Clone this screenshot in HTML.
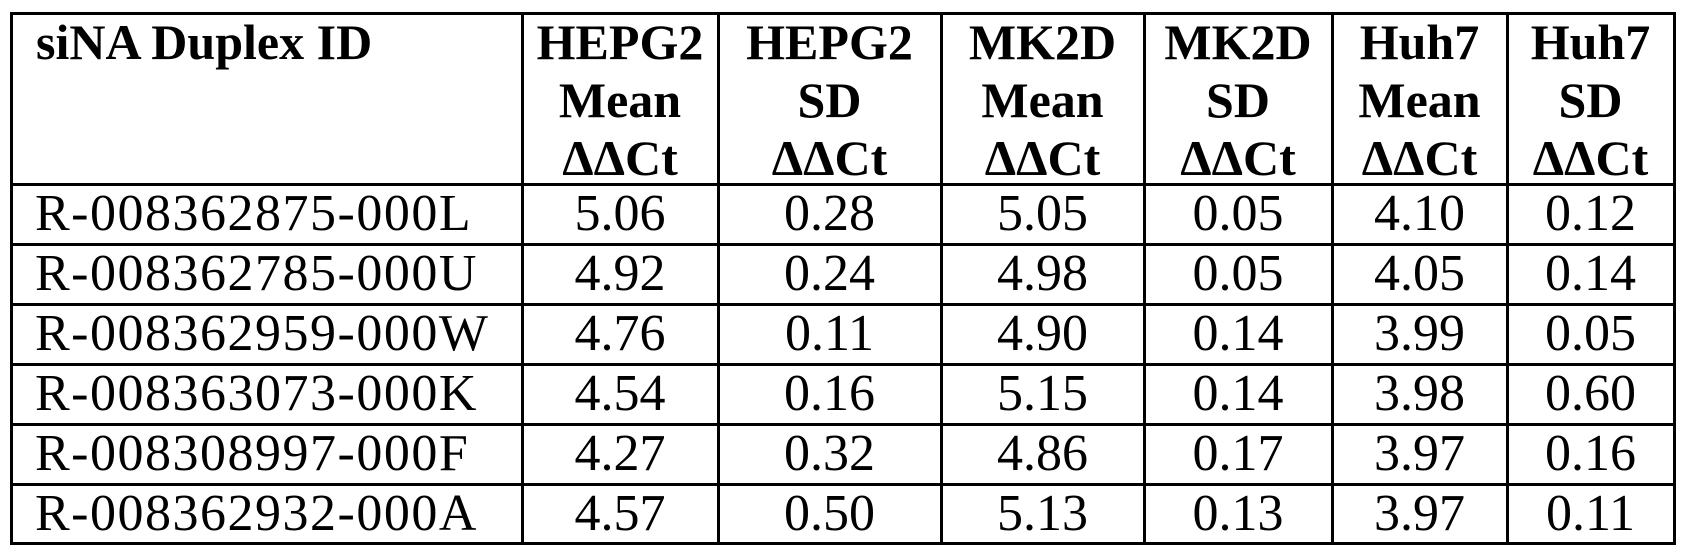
<!DOCTYPE html>
<html><head><meta charset="utf-8"><style>
html,body{margin:0;padding:0;background:#fff;}
body{width:1686px;height:556px;position:relative;overflow:hidden;font-family:"Liberation Serif","DejaVu Serif",serif;color:#000;}
.h{position:absolute;background:#000;height:3px;}
.v{position:absolute;background:#000;width:3px;}
.c{position:absolute;font-size:52px;text-align:center;white-space:nowrap;line-height:60px;}
.id{letter-spacing:1.5px;}
.b{font-weight:bold;font-size:50px;line-height:58px;}
</style></head><body>
<div class="h" style="left:10px;width:1666px;top:12px"></div>
<div class="h" style="left:10px;width:1666px;top:183px"></div>
<div class="h" style="left:10px;width:1666px;top:243px"></div>
<div class="h" style="left:10px;width:1666px;top:303px"></div>
<div class="h" style="left:10px;width:1666px;top:363px"></div>
<div class="h" style="left:10px;width:1666px;top:423px"></div>
<div class="h" style="left:10px;width:1666px;top:483px"></div>
<div class="h" style="left:10px;width:1666px;top:542px"></div>
<div class="v" style="top:12px;height:533px;left:10px"></div>
<div class="v" style="top:12px;height:533px;left:521px"></div>
<div class="v" style="top:12px;height:533px;left:717px"></div>
<div class="v" style="top:12px;height:533px;left:940px"></div>
<div class="v" style="top:12px;height:533px;left:1143px"></div>
<div class="v" style="top:12px;height:533px;left:1331px"></div>
<div class="v" style="top:12px;height:533px;left:1506px"></div>
<div class="v" style="top:12px;height:533px;left:1673px"></div>

<div class="c b" style="left:36px;top:13px;text-align:left">siNA Duplex ID</div>
<div class="c b" style="left:522px;width:196px;top:13px">HEPG2<br>Mean<br>ΔΔCt</div>
<div class="c b" style="left:718px;width:223px;top:13px">HEPG2<br>SD<br>ΔΔCt</div>
<div class="c b" style="left:941px;width:203px;top:13px">MK2D<br>Mean<br>ΔΔCt</div>
<div class="c b" style="left:1144px;width:188px;top:13px">MK2D<br>SD<br>ΔΔCt</div>
<div class="c b" style="left:1332px;width:175px;top:13px">Huh7<br>Mean<br>ΔΔCt</div>
<div class="c b" style="left:1507px;width:167px;top:13px">Huh7<br>SD<br>ΔΔCt</div>

<div class="c id" style="left:35px;top:184px;text-align:left">R-008362875-000L</div>
<div class="c id" style="left:35px;top:244px;text-align:left">R-008362785-000U</div>
<div class="c id" style="left:35px;top:304px;text-align:left">R-008362959-000W</div>
<div class="c id" style="left:35px;top:364px;text-align:left">R-008363073-000K</div>
<div class="c id" style="left:35px;top:424px;text-align:left">R-008308997-000F</div>
<div class="c id" style="left:35px;top:484px;text-align:left">R-008362932-000A</div>

<div class="c" style="left:522px;width:196px;top:184px">5.06</div>
<div class="c" style="left:522px;width:196px;top:244px">4.92</div>
<div class="c" style="left:522px;width:196px;top:304px">4.76</div>
<div class="c" style="left:522px;width:196px;top:364px">4.54</div>
<div class="c" style="left:522px;width:196px;top:424px">4.27</div>
<div class="c" style="left:522px;width:196px;top:484px">4.57</div>

<div class="c" style="left:718px;width:223px;top:184px">0.28</div>
<div class="c" style="left:718px;width:223px;top:244px">0.24</div>
<div class="c" style="left:718px;width:223px;top:304px">0.11</div>
<div class="c" style="left:718px;width:223px;top:364px">0.16</div>
<div class="c" style="left:718px;width:223px;top:424px">0.32</div>
<div class="c" style="left:718px;width:223px;top:484px">0.50</div>

<div class="c" style="left:941px;width:203px;top:184px">5.05</div>
<div class="c" style="left:941px;width:203px;top:244px">4.98</div>
<div class="c" style="left:941px;width:203px;top:304px">4.90</div>
<div class="c" style="left:941px;width:203px;top:364px">5.15</div>
<div class="c" style="left:941px;width:203px;top:424px">4.86</div>
<div class="c" style="left:941px;width:203px;top:484px">5.13</div>

<div class="c" style="left:1144px;width:188px;top:184px">0.05</div>
<div class="c" style="left:1144px;width:188px;top:244px">0.05</div>
<div class="c" style="left:1144px;width:188px;top:304px">0.14</div>
<div class="c" style="left:1144px;width:188px;top:364px">0.14</div>
<div class="c" style="left:1144px;width:188px;top:424px">0.17</div>
<div class="c" style="left:1144px;width:188px;top:484px">0.13</div>

<div class="c" style="left:1332px;width:175px;top:184px">4.10</div>
<div class="c" style="left:1332px;width:175px;top:244px">4.05</div>
<div class="c" style="left:1332px;width:175px;top:304px">3.99</div>
<div class="c" style="left:1332px;width:175px;top:364px">3.98</div>
<div class="c" style="left:1332px;width:175px;top:424px">3.97</div>
<div class="c" style="left:1332px;width:175px;top:484px">3.97</div>

<div class="c" style="left:1507px;width:167px;top:184px">0.12</div>
<div class="c" style="left:1507px;width:167px;top:244px">0.14</div>
<div class="c" style="left:1507px;width:167px;top:304px">0.05</div>
<div class="c" style="left:1507px;width:167px;top:364px">0.60</div>
<div class="c" style="left:1507px;width:167px;top:424px">0.16</div>
<div class="c" style="left:1507px;width:167px;top:484px">0.11</div>
</body></html>
